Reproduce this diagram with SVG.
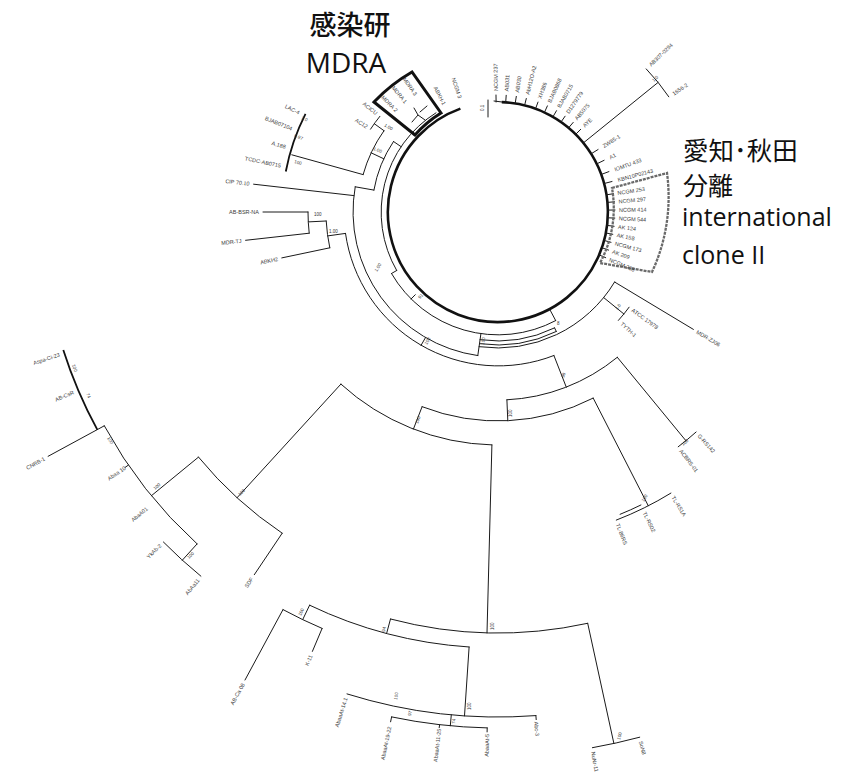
<svg xmlns="http://www.w3.org/2000/svg" width="841" height="778" viewBox="0 0 841 778">
<style>
.br{fill:none;stroke:#1a1a1a;stroke-width:1;stroke-linecap:round}
.th{fill:none;stroke:#111;stroke-width:2.6}
.th2{fill:none;stroke:#111;stroke-width:1.8}
.lf{font-family:"Liberation Sans",Arial,sans-serif;font-size:5.5px;fill:#3a3a3a}
.e{text-anchor:end}
.bs{font-family:"Liberation Sans",Arial,sans-serif;font-size:4.5px;fill:#333}
.jp{font-family:"Noto Sans CJK JP","Noto Sans",sans-serif;fill:#111}
.en{font-family:"Open Sans","Noto Sans",sans-serif;fill:#111}
</style>
<rect width="841" height="778" fill="#fff"/>

<g id="branches">
  <path class="th" d="M501.8,102.1 A110,110 0 1 1 460.4,108.6"/>
  <path class="br" d="M494,101 L502,102 M488,100 L488,117"/>
  <path class="br" d="M396.7,270.5 A117,117 0 0 1 436,112.8
    M555.7,320.6 A123,123 0 0 1 391.5,273.5
    M554.6,327.9 A129,129 0 0 1 480,339.7
    M556.3,331.5 A133,133 0 0 1 479.5,343.7
    M614.6,282 A136,136 0 0 1 479.1,346.7
    M477.8,355.6 A145,145 0 0 1 355.2,186.8
    M553.9,355.5 A154,154 0 0 1 345.5,233.4
    M373.9,190.1 A126,126 0 0 1 393.5,141.5
    M363.1,174.6 A140,140 0 0 1 384,130.7
    M370.5,129.2 A152,152 0 0 1 379.9,116.3
    M554.6,327.9 L556.3,331.5
    M549.6,309.1 L555.7,320.6
    M480.9,333.8 L477.8,355.6
    M425.5,337.6 L421,345.4
    M396.7,270.5 L391.5,273.5
    M415.3,294.7 L411,299
    M401,146.6 L393.5,141.5
    M373.9,190.1 L355.2,186.8
    M383.8,158.8 L371.1,152.8
    M384,130.7 L374.3,123.7
    M363.1,174.6 L291.8,154.8
    M353.9,195.6 L253.6,184.2
    M345.5,233.4 L327.7,235.9
    M329.8,247.8 A172,172 0 0 1 326.2,221
    M326.2,221 L308.3,221.9
    M309.2,233.2 A190,190 0 0 1 308,212
    M308,212 L263,212
    M309.2,233.2 L245.6,240.3
    M329.8,247.8 L281.8,257.9"/>
  <path class="th2" d="M285.8,171.5 A216,216 0 0 1 305.5,113.9"/>
  <path class="br" d="M614.6,282 L693.4,329.4
    M603.7,297.6 L623.9,314
    M629.1,307.2 A162,162 0 0 1 618.4,320.4
    M583.5,142.8 L658.1,82.4
    M646.2,68.9 A206,206 0 0 1 668.8,96.8"/>
  <path class="br" d="M496.1,102 L496,95 M505.7,102.3 L506.2,95.3 M515.2,103.4 L516.3,96.4 M524.6,105.3 L526.3,98.5
    M535.6,108.6 L538,102.1 M544.5,112.3 L547.4,105.9 M553,116.7 L556.5,110.7 M561.1,121.9 L565.1,116.2
    M568.7,127.7 L573.2,122.4 M575.8,134.2 L580.7,129.3
    M591.3,153.7 L598.1,149.5 M596.9,163.8 L604.1,160.3 M601.4,174.4 L608.9,171.6 M604.2,183.5 L612,181.5
    M606.6,194.8 L613.6,193.7 M607.6,202.4 L614.6,201.8 M608,210.1 L615,210 M607.8,217.8 L614.8,218.1
    M607.2,225.4 L614.1,226.3 M606,233 L612.8,234.3 M604.2,240.5 L611,242.3 M602,247.8 L608.6,250.1 M599.3,255 L605.7,257.7"/>
  <path class="br" d="M553.9,355.5 L566.3,387.2
    M506.9,399.8 A188,188 0 0 0 617.3,357.3
    M617.3,357.3 L685.9,440.7
    M696.1,432 A296,296 0 0 1 678.2,446.8
    M506.9,399.8 L507.8,420.8
    M593.2,398.1 A209,209 0 0 1 422.1,406.7
    M593.2,398.1 L648.3,505.8
    M670.9,493.1 A330,330 0 0 1 616.3,520.1
    M640.9,505 A326,326 0 0 1 620.1,514.3
    M422.1,406.7 L413.4,429.1
    M491.9,444.9 A233,233 0 0 1 340.9,384.1
    M491.9,444.9 L487,632.9
    M587.7,623.3 A421,421 0 0 1 390.5,619
    M390.5,619 L386.6,633.5
    M469.1,647 A436,436 0 0 1 309.6,605.2
    M309.6,605.2 L302.7,619.6
    M322.1,628.4 A452,452 0 0 1 283,609.6
    M283,609.6 L245,680
    M322.1,628.4 L312.4,651.4
    M469.1,647 L464.5,715.9
    M535.9,715.6 A505,505 0 0 1 347,693.9
    M451.3,714.8 L450.3,725.8
    M487.2,727.9 A516,516 0 0 1 391.6,716.9
    M439.6,724.7 L439.2,727.7 M487.2,727.9 L487.1,731.9 M391.6,716.9 L390.6,721.8 M535.9,715.6 L536.2,719.6
    M587.7,623.3 L613.9,743.5
    M639.7,737.2 A544,544 0 0 1 592.4,747.7
    M340.9,384.1 L237,497.8
    M282.2,533.2 A387,387 0 0 1 198.5,457.1
    M282.2,533.2 L254.3,574.7
    M198.5,457.1 L151.3,495.8
    M197.1,543.9 A448,448 0 0 1 104.3,425.8
    M197.1,543.9 L182.3,560.2
    M200.9,576.2 A470,470 0 0 1 163.4,542
    M104.3,425.8 L97.3,429.6
    M97.3,429.6 L48.1,456.3
    M128.4,465.1 L125.1,467.4"/>
  <path class="th2" d="M97.3,429.6 A456,456 0 0 1 63.3,349.9"/>
</g>

<g id="box-mdra">
  <path d="M415,135 L374,102 A165,165 0 0 1 412,72 L441,113 A113,113 0 0 0 415,135 Z" fill="none" stroke="#111" stroke-width="3"/>
  <path class="br" d="M412,122 L418,115 L425,120 M418,115 L414,108 M420,112 L427,106"/>
  <text class="lf e" transform="translate(396.9,110.9) rotate(45)" dy="2">MDRA 2</text>
  <text class="lf e" transform="translate(406.1,102.5) rotate(50)" dy="2">MDRA 1</text>
  <text class="lf e" transform="translate(416,94.9) rotate(55)" dy="2">MDRA 3</text>
</g>

<g id="box-ic2">
  <path d="M612,188 L667,173 A178,178 0 0 1 652,272 L600,263 A116,116 0 0 0 612,188 Z" fill="none" stroke="#6a6a6a" stroke-width="2.3" stroke-dasharray="3 1"/>
  <text class="lf" transform="translate(617.5,193.1) rotate(-9)" dy="2">NCGM 253</text>
  <text class="lf" transform="translate(618.5,201.4) rotate(-5)" dy="2">NCGM 297</text>
  <text class="lf" transform="translate(619,209.9) rotate(-1)" dy="2">NCGM 414</text>
  <text class="lf" transform="translate(618.8,218.3) rotate(3)" dy="2">NCGM 544</text>
  <text class="lf" transform="translate(618.1,226.7) rotate(7)" dy="2">AK 124</text>
  <text class="lf" transform="translate(616.8,235.1) rotate(11)" dy="2">AK 158</text>
  <text class="lf" transform="translate(614.9,243.3) rotate(15)" dy="2">NCGM 173</text>
  <text class="lf" transform="translate(612.4,251.4) rotate(19)" dy="2">AK 209</text>
  <text class="lf" transform="translate(609.4,259.3) rotate(23)" dy="2">NCGM 238</text>
</g>

<g id="leaves-top">
  <text class="lf" transform="translate(495.9,91) rotate(-91)" dy="2">NCGM 237</text>
  <text class="lf" transform="translate(506.4,91.3) rotate(-86)" dy="2">AB031</text>
  <text class="lf" transform="translate(516.9,92.5) rotate(-81)" dy="2">AB030</text>
  <text class="lf" transform="translate(527.3,94.6) rotate(-76)" dy="2">AbH12O-A2</text>
  <text class="lf" transform="translate(539.4,98.3) rotate(-70)" dy="2">XH386</text>
  <text class="lf" transform="translate(549.1,102.3) rotate(-65)" dy="2">BJAB0868</text>
  <text class="lf" transform="translate(558.5,107.2) rotate(-60)" dy="2">BJAB0715</text>
  <text class="lf" transform="translate(567.4,112.9) rotate(-55)" dy="2">D1279779</text>
  <text class="lf" transform="translate(575.8,119.3) rotate(-50)" dy="2">AB5075</text>
  <text class="lf" transform="translate(583.6,126.4) rotate(-45)" dy="2">AYE</text>
  <text class="lf" transform="translate(603.2,146.3) rotate(-32)" dy="2">ZW85-1</text>
  <text class="lf" transform="translate(609.5,157.6) rotate(-26)" dy="2">A1</text>
  <text class="lf" transform="translate(614.5,169.6) rotate(-20)" dy="2">IOMTU 433</text>
  <text class="lf" transform="translate(617.8,179.9) rotate(-15)" dy="2">KBN10P02143</text>
  <text class="lf" transform="translate(649.8,65.4) rotate(-44)" dy="2">AB307-0294</text>
  <text class="lf" transform="translate(672.9,94) rotate(-34)" dy="2">1656-2</text>
  <text class="lf e" transform="translate(444.3,104.7) rotate(63.4)" dy="2">ABKH-1</text>
  <text class="lf e" transform="translate(460.1,98.1) rotate(71.6)" dy="2">NCGM 3</text>
  <text class="bs" transform="translate(484,111) rotate(-90)">0.1</text>
</g>

<g id="leaves-right">
  <text class="lf" transform="translate(696.9,331.5) rotate(31)" dy="2">MDR-ZJ06</text>
  <text class="lf" transform="translate(632.3,309.6) rotate(36)" dy="2">ATCC 17978</text>
  <text class="lf" transform="translate(621.4,323.1) rotate(42)" dy="2">TYTH-1</text>
  <text class="lf" transform="translate(698.7,434.9) rotate(48)" dy="2">G-RS142</text>
  <text class="lf" transform="translate(680.6,450) rotate(52.5)" dy="2">ACBRS-01</text>
  <text class="lf" transform="translate(673,496.5) rotate(58.4)" dy="2">TL-RS1A</text>
  <text class="lf" transform="translate(644.4,512.2) rotate(64)" dy="2">TL-RS02</text>
  <text class="lf" transform="translate(617.7,523.8) rotate(69)" dy="2">TL-86RS</text>
</g>

<g id="leaves-left">
  <text class="lf e" transform="translate(280.9,165.8) rotate(12)" dy="2">TCDC-AB0715</text>
  <text class="lf e" transform="translate(285.7,147.1) rotate(17)" dy="2">A.188</text>
  <text class="lf e" transform="translate(292.2,128.8) rotate(22)" dy="2">BJAB07104</text>
  <text class="lf e" transform="translate(299.3,112.9) rotate(26.5)" dy="2">LAC-4</text>
  <text class="lf e" transform="translate(367.2,127) rotate(33)" dy="2">AC12</text>
  <text class="lf e" transform="translate(376.8,113.8) rotate(39)" dy="2">ACICU</text>
  <text class="lf e" transform="translate(249.6,183.7) rotate(6.5)" dy="2">CIP 70.10</text>
  <text class="lf e" transform="translate(259,212)" dy="2">AB-BSR-NA</text>
  <text class="lf e" transform="translate(241.6,240.8) rotate(-6.4)" dy="2">MDR-TJ</text>
  <text class="lf e" transform="translate(277.9,258.8) rotate(-12)" dy="2">ABKH2</text>
</g>

<g id="leaves-bottom">
  <text class="lf e" transform="translate(59.5,354.5) rotate(-18)" dy="2">Aspa-Ci-23</text>
  <text class="lf e" transform="translate(73.6,392.1) rotate(-23)" dy="2">AB-CsR</text>
  <text class="lf e" transform="translate(44.5,458.4) rotate(-28.5)" dy="2">CNRB-1</text>
  <text class="lf e" transform="translate(125.1,467.4) rotate(-34.4)" dy="2">Abaa 10</text>
  <text class="lf e" transform="translate(147,508) rotate(-40)" dy="2">AbaA01</text>
  <text class="lf e" transform="translate(160.5,544.8) rotate(-44.6)" dy="2">YkAb-2</text>
  <text class="lf e" transform="translate(198.4,579.3) rotate(-50.8)" dy="2">AbAa11</text>
  <text class="lf e" transform="translate(252,578) rotate(-56.1)" dy="2">SDF</text>
  <text class="lf e" transform="translate(243.1,683.5) rotate(-61.6)" dy="2">AB-Ca 08</text>
  <text class="lf e" transform="translate(310.8,655.1) rotate(-67.1)" dy="2">K-11</text>
  <text class="lf e" transform="translate(345.8,697.8) rotate(-72.6)" dy="2">AbaaAt-14.1</text>
  <text class="lf e" transform="translate(389.5,726.7) rotate(-78.1)" dy="2">AbaaAt-19-22</text>
  <text class="lf e" transform="translate(439.1,728.7) rotate(-83.5)" dy="2">AbaaAt-11-25</text>
  <text class="lf e" transform="translate(487.1,733.9) rotate(-88.8)" dy="2">AbaaAt-5</text>
  <text class="lf" transform="translate(536.3,721.6) rotate(85.7)" dy="2">Abc-3</text>
  <text class="lf" transform="translate(593.1,751.7) rotate(80)" dy="2">NuNr-11</text>
  <text class="lf" transform="translate(640.7,741.2) rotate(74.9)" dy="2">SoN8</text>
</g>

<g id="bootstrap">
  <text class="bs" transform="translate(294,163) rotate(15)">100</text>
  <text class="bs" transform="translate(373,150) rotate(20)">1.00</text>
  <text class="bs" transform="translate(384,126) rotate(30)">1.00</text>
  <text class="bs" transform="translate(301,119) rotate(25)">1.0</text>
  <text class="bs" transform="translate(294,137) rotate(20)">0.97</text>
  <text class="bs" transform="translate(314,216)">100</text>
  <text class="bs" transform="translate(329,233)">1.00</text>
  <text class="bs" transform="translate(377,272) rotate(-60)">1.00</text>
  <text class="bs" transform="translate(420,299) rotate(-45)">91</text>
  <text class="bs" transform="translate(427,345) rotate(-60)">100</text>
  <text class="bs" transform="translate(484,345) rotate(-80)">100</text>
  <text class="bs" transform="translate(557,325)">8</text>
  <text class="bs" transform="translate(564,378) rotate(-70)">98</text>
  <text class="bs" transform="translate(512,417) rotate(-90)">100</text>
  <text class="bs" transform="translate(418,424) rotate(-70)">100</text>
  <text class="bs" transform="translate(240,496) rotate(-45)">100</text>
  <text class="bs" transform="translate(189,559) rotate(-45)">100</text>
  <text class="bs" transform="translate(72,365) rotate(70)">100</text>
  <text class="bs" transform="translate(86,394) rotate(65)">74</text>
  <text class="bs" transform="translate(107,438) rotate(60)">100</text>
  <text class="bs" transform="translate(155,490) rotate(-40)">100</text>
  <text class="bs" transform="translate(494,630) rotate(-90)">100</text>
  <text class="bs" transform="translate(385,632) rotate(-80)">94</text>
  <text class="bs" transform="translate(301,616) rotate(-65)">100</text>
  <text class="bs" transform="translate(471,710) rotate(-90)">100</text>
  <text class="bs" transform="translate(397,700) rotate(-80)">100</text>
  <text class="bs" transform="translate(411,716) rotate(-80)">97</text>
  <text class="bs" transform="translate(455,724) rotate(-85)">74</text>
  <text class="bs" transform="translate(620,740) rotate(-75)">100</text>
  <text class="bs" transform="translate(683,446) rotate(-40)">100</text>
  <text class="bs" transform="translate(644,502) rotate(-60)">100</text>
  <text class="bs" transform="translate(617,310) rotate(-50)">1.0</text>
  <text class="bs" transform="translate(654,82) rotate(-45)">1.0</text>
</g>

<g id="title-mdra">
  <text class="jp" x="350" y="35" font-size="27" text-anchor="middle" font-weight="500">感染研</text>
  <text class="en" x="346" y="73" font-size="28" text-anchor="middle">MDRA</text>
</g>

<g id="title-ic2">
  <text class="jp" x="683" y="160" font-size="25.5">愛知･秋田</text>
  <text class="jp" x="683" y="195" font-size="25">分離</text>
  <text class="en" x="682" y="226" font-size="25">international</text>
  <text class="en" x="682" y="264" font-size="25">clone II</text>
</g>
</svg>
